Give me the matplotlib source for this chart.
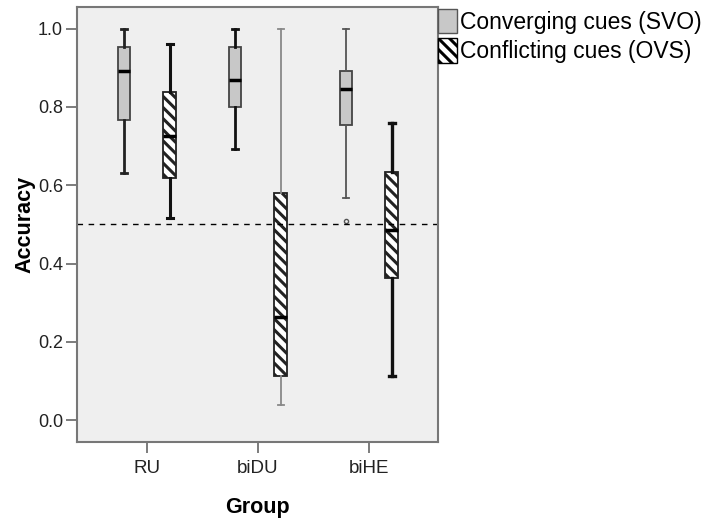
import matplotlib
matplotlib.use("Agg")
import matplotlib.pyplot as plt
from matplotlib.patches import Patch

plt.rcParams["font.family"] = ["Liberation Sans", "DejaVu Sans"]
plt.rcParams["hatch.linewidth"] = 2.2

# ──────────────────────────────────────────────
# data
# ──────────────────────────────────────────────
groups = ["RU", "biDU", "biHE"]
conditions = ["Converging cues (SVO)", "Conflicting cues (OVS)"]

svo_whislo = [0.631, 0.693, 0.567]
svo_q1     = [0.767, 0.800, 0.754]
svo_med    = [0.893, 0.869, 0.847]
svo_q3     = [0.953, 0.952, 0.893]
svo_whishi = [1.000, 1.000, 1.000]

ovs_whislo = [0.517, 0.038, 0.113]
ovs_q1     = [0.618, 0.113, 0.364]
ovs_med    = [0.725, 0.264, 0.486]
ovs_q3     = [0.838, 0.581, 0.633]
ovs_whishi = [0.962, 1.000, 0.760]

outlier_group = [2]
outlier_value = [0.51]

chance_level = 0.5


def make_stats(lo, q1, med, q3, hi):
    return [dict(whislo=a, q1=b, med=c, q3=d, whishi=e, fliers=[])
            for a, b, c, d, e in zip(lo, q1, med, q3, hi)]


fig = plt.figure(figsize=(7.13, 5.19), dpi=100)
ax = fig.add_axes([0.108, 0.148, 0.506, 0.839])
ax.set_facecolor("#efefef")

offset = 0.205
width = 0.113
xs = range(len(groups))

svo_stats = make_stats(svo_whislo, svo_q1, svo_med, svo_q3, svo_whishi)
ovs_stats = make_stats(ovs_whislo, ovs_q1, ovs_med, ovs_q3, ovs_whishi)

# whisker widths differ per box in the original
svo_wlw = [2.0, 2.0, 1.3]
ovs_wlw = [2.2, 1.3, 2.4]
svo_wcol = ["#222222", "#111111", "#555555"]
ovs_wcol = ["#111111", "#888888", "#111111"]

for i in xs:
    ax.bxp([svo_stats[i]], positions=[i - offset], widths=width,
           patch_artist=True, showfliers=False, capwidths=width * 0.5,
           boxprops=dict(facecolor="#c8c8c8", edgecolor="#444444", linewidth=1.3),
           medianprops=dict(color="black", linewidth=2.5),
           whiskerprops=dict(color=svo_wcol[i], linewidth=svo_wlw[i]),
           capprops=dict(color=svo_wcol[i], linewidth=svo_wlw[i]))
    ax.bxp([ovs_stats[i]], positions=[i + offset], widths=width,
           patch_artist=True, showfliers=False, capwidths=width * 0.5,
           boxprops=dict(facecolor="white", edgecolor="#222222",
                         linewidth=1.3, hatch="\\\\\\"),
           medianprops=dict(color="black", linewidth=2.5),
           whiskerprops=dict(color=ovs_wcol[i], linewidth=ovs_wlw[i]),
           capprops=dict(color=ovs_wcol[i], linewidth=ovs_wlw[i]))

ax.plot([g - offset for g in outlier_group], outlier_value, marker="o",
        markersize=3, markerfacecolor="none", markeredgecolor="#555555",
        linestyle="none")

ax.axhline(chance_level, color="black", linewidth=1.0, linestyle=(0, (4, 4)))

ax.set_xlim(-0.63, 2.62)
ax.set_ylim(-0.056, 1.056)
ax.set_xticks(list(xs))
ax.set_xticklabels(groups, fontsize=13.5, color="#222222")
ax.set_yticks([0.0, 0.2, 0.4, 0.6, 0.8, 1.0])
ax.set_yticklabels(["0.0", "0.2", "0.4", "0.6", "0.8", "1.0"], fontsize=13, color="#222222")
ax.tick_params(axis="both", length=8, width=1.2, color="#666666")
ax.tick_params(axis="x", pad=5)
ax.tick_params(axis="y", pad=2)

for s in ax.spines.values():
    s.set_color("#777777")
    s.set_linewidth(1.5)

ax.set_xlabel("Group", fontsize=15.5, fontweight="bold", labelpad=14)
ax.set_ylabel("Accuracy", fontsize=15.5, fontweight="bold", labelpad=2)

handles = [Patch(facecolor="#c8c8c8", edgecolor="#555555", linewidth=1.0),
           Patch(facecolor="white", edgecolor="black", linewidth=1.0, hatch="\\\\\\")]
fig.legend(handles, conditions, loc="upper left",
           bbox_to_anchor=(438 / 713, 1 - 9 / 519), frameon=False,
           fontsize=16.5, handlelength=0.85, handleheight=1.25,
           handletextpad=0.1, borderpad=0, borderaxespad=0, labelspacing=0.2)

fig.savefig("out.png", dpi=100)
